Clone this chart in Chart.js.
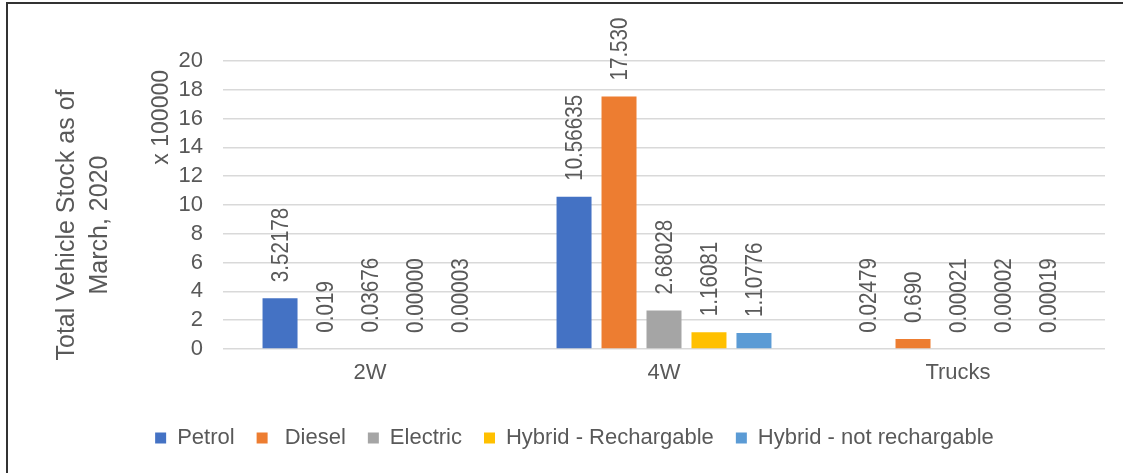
<!DOCTYPE html>
<html>
<head>
<meta charset="utf-8">
<script src="https://cdn.jsdelivr.net/npm/chart.js@4.4.1/dist/chart.umd.min.js"></script>
<style>
    html, body { margin: 0; padding: 0; background: #fff; overflow: hidden; }
    #wrap { position: relative; width: 1123px; height: 473px; }
    #frame { position: absolute; left: 6px; top: 2px; width: 1200px; height: 600px; border: 2px solid #333; box-sizing: border-box; pointer-events: none; }
    canvas { position: absolute; left: 0; top: 0; }
</style>
</head>
<body>
<div id="wrap">
    <canvas id="stockChart" width="1123" height="473"></canvas>
    <div id="frame"></div>
</div>
<script>
// 차트 데이터 (x 100000)
const categories = ['2W', '4W', 'Trucks'];
const seriesNames = ['Petrol', ' Diesel', 'Electric', 'Hybrid - Rechargable', 'Hybrid - not rechargable'];
const petrol = [3.52178, 10.56635, 0.02479];
const diesel = [0.019, 17.530, 0.690];
const electric = [0.03676, 2.68028, 0.00021];
const hybridRech = [0.00000, 1.16081, 0.00002];
const hybridNotRech = [0.00003, 1.10776, 0.00019];
const labelDecimals = [5, 3, 5, 5, 5];
const yTicks = [0, 2, 4, 6, 8, 10, 12, 14, 16, 18, 20];

// 색상
const seriesColors = ['#4472C4', '#ED7D31', '#A5A5A5', '#FFC000', '#5B9BD5'];
const textColor = '#595959';
const txtFont = '"Liberation Sans", Arial, sans-serif';

const seriesValues = [petrol, diesel, electric, hybridRech, hybridNotRech];

// 막대 위 세로 라벨 (좁은 글꼴 느낌으로 가로 압축)
const barLabels = {
    id: 'barLabels',
    afterDatasetsDraw(chart) {
        const ctx = chart.ctx;
        ctx.save();
        ctx.fillStyle = textColor;
        ctx.font = '24px ' + txtFont;
        ctx.textAlign = 'left';
        ctx.textBaseline = 'middle';
        chart.data.datasets.forEach((ds, i) => {
            const meta = chart.getDatasetMeta(i);
            meta.data.forEach((bar, j) => {
                const txt = ds.data[j].toFixed(labelDecimals[i]);
                ctx.save();
                ctx.translate(bar.x + 1, bar.y - 16);
                ctx.rotate(-Math.PI / 2);
                ctx.scale(0.86, 1);
                ctx.fillText(txt, 0, 0);
                ctx.restore();
            });
        });
        ctx.restore();
    }
};

// 축 제목, 단위 표시
const axisTitles = {
    id: 'axisTitles',
    afterDraw(chart) {
        const ctx = chart.ctx;
        const area = chart.chartArea;
        const midY = (area.top + area.bottom) / 2 + 20;
        ctx.save();
        ctx.fillStyle = textColor;
        ctx.textBaseline = 'middle';

        ctx.font = '25px ' + txtFont;
        ctx.textAlign = 'center';
        [['Total Vehicle Stock as of', 67], ['March, 2020', 100]].forEach(([t, x]) => {
            ctx.save();
            ctx.translate(x, midY);
            ctx.rotate(-Math.PI / 2);
            ctx.fillText(t, 0, 0);
            ctx.restore();
        });

        ctx.font = '23px ' + txtFont;
        ctx.textAlign = 'right';
        ctx.save();
        ctx.translate(162, area.top + 9);
        ctx.rotate(-Math.PI / 2);
        ctx.fillText('x 100000', 0, 0);
        ctx.restore();
        ctx.restore();
    }
};

// 1px 미만 막대는 그리지 않음
function barColor(i) {
    return (c) => {
        const v = c.raw;
        const s = c.chart.scales.y;
        if (!s || v === undefined) return seriesColors[i];
        return Math.abs(s.getPixelForValue(0) - s.getPixelForValue(v)) < 1 ? 'rgba(0,0,0,0)' : seriesColors[i];
    };
}

const ctx = document.getElementById('stockChart').getContext('2d');
const stockChart = new Chart(ctx, {
    type: 'bar',
    data: {
        labels: categories,
        datasets: seriesNames.map((name, i) => ({
            label: name,
            data: seriesValues[i],
            backgroundColor: barColor(i),
            borderWidth: 0,
            categoryPercentage: 0.765,
            barPercentage: 0.778
        }))
    },
    options: {
        responsive: false,
        animation: false,
        layout: { padding: { left: 44, right: 18, top: 61, bottom: 14 } },
        scales: {
            x: {
                grid: { display: false },
                border: { display: false },
                ticks: { color: textColor, font: { family: txtFont, size: 22 }, padding: 3 },
                afterFit(scale) { scale.height = 56; }
            },
            y: {
                min: 0,
                max: 20,
                afterBuildTicks(scale) { scale.ticks = yTicks.map(v => ({ value: v })); },
                grid: { color: '#d9d9d9', lineWidth: 1.5, drawTicks: false },
                border: { display: false },
                ticks: { color: textColor, font: { family: txtFont, size: 22 }, padding: 20, autoSkip: false },
                afterFit(scale) { scale.width = 179; }
            }
        },
        plugins: {
            legend: {
                position: 'bottom',
                labels: {
                    color: textColor,
                    font: { family: txtFont, size: 22 },
                    generateLabels(chart) {
                        return chart.data.datasets.map((ds, i) => ({
                            text: ds.label,
                            fillStyle: seriesColors[i],
                            strokeStyle: seriesColors[i],
                            lineWidth: 0,
                            fontColor: textColor,
                            datasetIndex: i,
                            hidden: false
                        }));
                    },
                    boxWidth: 11,
                    boxHeight: 11,
                    padding: 22
                }
            },
            tooltip: { enabled: false }
        }
    },
    plugins: [barLabels, axisTitles]
});
</script>
</body>
</html>
